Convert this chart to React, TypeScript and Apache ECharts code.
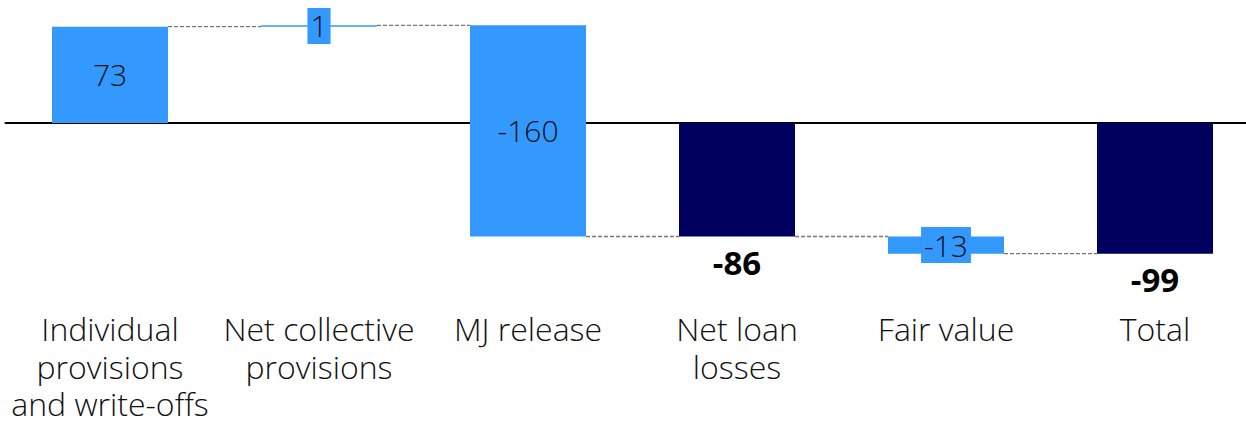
import React, { useEffect, useRef } from "react";
import * as echarts from "echarts";

const categories = [
  "Individual\nprovisions\nand write-offs",
  "Net collective\nprovisions",
  "MJ release",
  "Net loan\nlosses",
  "Fair value",
  "Total",
];
const values = [73, 1, -160, -86, -13, -99];
const isTotal = [false, false, false, true, false, true];

const LIGHT = "#3399FF";
const DARK = "#00005E";
const FONT = "'Open Sans', 'Noto Sans', sans-serif";

export default function App() {
  const ref = useRef<HTMLDivElement>(null);
  useEffect(() => {
    document.body.style.margin = "0";
    const chart = echarts.init(ref.current!, null, { renderer: "svg" });

    let running = 0;
    const items = values.map((v, i) => {
      let start: number, end: number;
      if (isTotal[i]) {
        start = 0;
        end = v;
      } else {
        start = running;
        end = running + v;
      }
      running = end;
      return [i, start, end, v, isTotal[i] ? 1 : 0];
    });
    const n = items.length;

    const renderItem = (params: any, api: any) => {
      const i = api.value(0);
      const s = api.value(1);
      const e = api.value(2);
      const v = api.value(3);
      const tot = api.value(4) === 1;
      const p0 = api.coord([i, s]);
      const p1 = api.coord([i, e]);
      const bw = api.size([1, 0])[0] * 0.555;
      const top = Math.min(p0[1], p1[1]);
      const bottom = Math.max(p0[1], p1[1]);
      const h = Math.max(bottom - top, 1.5);
      const cx = p0[0];
      const children: any[] = [
        {
          type: "rect",
          shape: { x: cx - bw / 2, y: top, width: bw, height: h },
          style: { fill: tot ? DARK : LIGHT },
        },
      ];
      if (i < n - 1) {
        const q = api.coord([i + 1, e]);
        children.push({
          type: "line",
          shape: { x1: cx + bw / 2, y1: p1[1], x2: q[0] - bw / 2, y2: p1[1] },
          style: { stroke: "#777", lineWidth: 1.3, lineDash: [4, 2] },
        });
      }
      if (tot) {
        children.push({
          type: "text",
          style: {
            text: String(v),
            x: cx,
            y: bottom + 26,
            align: "center",
            verticalAlign: "middle",
            fontFamily: FONT,
            fontSize: 33,
            fontWeight: "bold",
            fill: "#000",
          },
        });
      } else {
        children.push({
          type: "text",
          style: {
            text: String(v),
            x: cx,
            y: (top + bottom) / 2,
            align: "center",
            verticalAlign: "middle",
            fontFamily: FONT,
            fontSize: 30,
            fontWeight: 300,
            fill: "#111",
            backgroundColor: LIGHT,
            padding: [3, 3, 3, 3],
          },
        });
      }
      return { type: "group", children };
    };

    chart.setOption({
      animation: false,
      grid: {
        left: 5.5,
        width: 1254,
        top: 4.2,
        height: 283.8,
        outerBoundsMode: "none",
        containLabel: false,
      },
      xAxis: [
        {
          type: "category",
          data: categories,
          position: "bottom",
          axisLine: { show: false, onZero: false },
          axisTick: { show: false },
          axisLabel: {
            interval: 0,
            margin: 22,
            fontFamily: FONT,
            fontSize: 32,
            fontWeight: 300,
            lineHeight: 37.5,
            color: "#111",
          },
        },
        {
          type: "category",
          data: categories,
          position: "bottom",
          axisLine: { show: true, onZero: true, lineStyle: { color: "#000", width: 2 } },
          axisTick: { show: false },
          axisLabel: { show: false },
        },
      ],
      yAxis: {
        type: "value",
        min: -125,
        max: 90,
        show: false,
        splitLine: { show: false },
      },
      series: [
        {
          type: "custom",
          xAxisIndex: 0,
          renderItem,
          encode: { x: 0, y: [1, 2] },
          data: items,
          clip: false,
          z: 3,
        },
      ],
    });
    return () => chart.dispose();
  }, []);
  return <div ref={ref} style={{ width: 1246, height: 421 }} />;
}
